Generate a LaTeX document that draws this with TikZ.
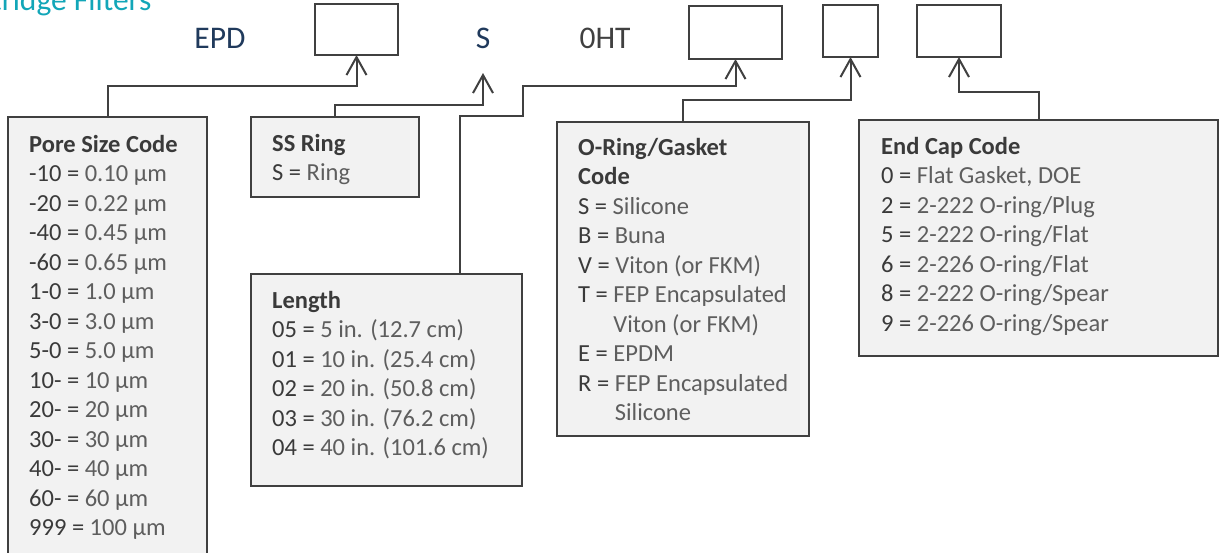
\documentclass[tikz,border=0pt]{standalone}
\usepackage{fontspec}
\setmainfont{Carlito}
\usetikzlibrary{arrows.meta}
\definecolor{linegray}{HTML}{404040}
\definecolor{keygray}{HTML}{3A3A3A}
\definecolor{valgray}{HTML}{5E5E5E}
\definecolor{boxfill}{HTML}{F2F2F2}
\definecolor{codenavy}{HTML}{203A5C}
\definecolor{titleteal}{HTML}{12A6B8}
\newcommand{\codeval}[2]{{\color{keygray}#1 =} #2}
\newcommand{\codehead}[1]{{\bfseries\color{keygray}#1}}
\begin{document}
\begin{tikzpicture}[
  x=1pt,y=-1pt,
  >={Straight Barb[length=18pt,width=20pt]},
  codebox/.style={draw=linegray,line width=2pt,anchor=north west,inner sep=0pt,outer sep=0pt},
  infobox/.style={codebox,fill=boxfill},
  info/.style={anchor=north west,align=left,inner sep=0pt,text=valgray,font=\fontsize{24.5}{29.5}\selectfont},
  codelabel/.style={anchor=base,font=\fontsize{31.5}{36}\selectfont},
  link/.style={->,line width=2pt,draw=linegray}
]
  \useasboundingbox (0,0) rectangle (1219,552);

  \node[anchor=base east,text=titleteal,font=\fontsize{31.5}{36}\selectfont] (title) at (155,10) {Cartridge Filters};

  \node[codelabel,text=codenavy] (epd) at (220,48) {EPD};
  \node[codelabel,text=codenavy] (ring) at (483,48) {S};
  \node[codelabel,text=linegray] (oht) at (605,48) {0HT};

  \foreach \name/\x/\y/\w/\h in {c1/315/4/83/51, c2/689/6/93/53, c3/823/5/55/52, c4/917/5/84/52}
    \node[codebox,minimum width=\w pt,minimum height=\h pt] (\name) at (\x,\y) {};

  \foreach \name/\x/\y/\w/\h in {pore/8/117/199/450, ss/251/117/168/80, len/251/274/271/212,
      oring/557/122/252/314, endcap/859/120/359/236}
    \node[infobox,minimum width=\w pt,minimum height=\h pt] (\name) at (\x,\y) {};

  \node[info] (pore-text) at (29,135) {\codehead{Pore Size Code}\\
    \codeval{-10}{0.10 µm}\\ \codeval{-20}{0.22 µm}\\ \codeval{-40}{0.45 µm}\\
    \codeval{-60}{0.65 µm}\\ \codeval{1-0}{1.0 µm}\\ \codeval{3-0}{3.0 µm}\\
    \codeval{5-0}{5.0 µm}\\ \codeval{10-}{10 µm}\\ \codeval{20-}{20 µm}\\
    \codeval{30-}{30 µm}\\ \codeval{40-}{40 µm}\\ \codeval{60-}{60 µm}\\
    \codeval{999}{100 µm}};

  \node[info] (ss-text) at (272,134) {\codehead{SS Ring}\\ \codeval{S}{Ring}};

  \node[info] (len-text) at (272,291) {\codehead{Length}\\
    \codeval{05}{5 in. (12.7 cm)}\\ \codeval{01}{10 in. (25.4 cm)}\\
    \codeval{02}{20 in. (50.8 cm)}\\ \codeval{03}{30 in. (76.2 cm)}\\
    \codeval{04}{40 in. (101.6 cm)}};

  \node[info] (oring-text) at (578,138) {\codehead{O-Ring/Gasket}\\ \codehead{Code}\\
    \codeval{S}{Silicone}\\ \codeval{B}{Buna}\\ \codeval{V}{Viton (or FKM)}\\
    \codeval{T}{FEP Encapsulated}\\ \phantom{T = }Viton (or FKM)\\
    \codeval{E}{EPDM}\\ \codeval{R}{FEP Encapsulated}\\ \phantom{R = }Silicone};

  \node[info] (endcap-text) at (881,137) {\codehead{End Cap Code}\\
    \codeval{0}{Flat Gasket, DOE}\\ \codeval{2}{2-222 O-ring/Plug}\\
    \codeval{5}{2-222 O-ring/Flat}\\ \codeval{6}{2-226 O-ring/Flat}\\
    \codeval{8}{2-222 O-ring/Spear}\\ \codeval{9}{2-226 O-ring/Spear}};

  \coordinate (sTip) at (483,73);
  \draw[link] (pore.north) -- ++(0,-31) -| (c1.south);
  \draw[link] (ss.north) -- ++(0,-12) -| (sTip);
  \draw[link] ([xshift=73.5pt]len.north) -- ++(0,-158) -- ++(63,0) -- ++(0,-30) -| (c2.south);
  \draw[link] (oring.north) -- ++(0,-22) -| (c3.south);
  \draw[link] (endcap.north) -- ++(0,-28) -| (c4.south);
\end{tikzpicture}
\end{document}
